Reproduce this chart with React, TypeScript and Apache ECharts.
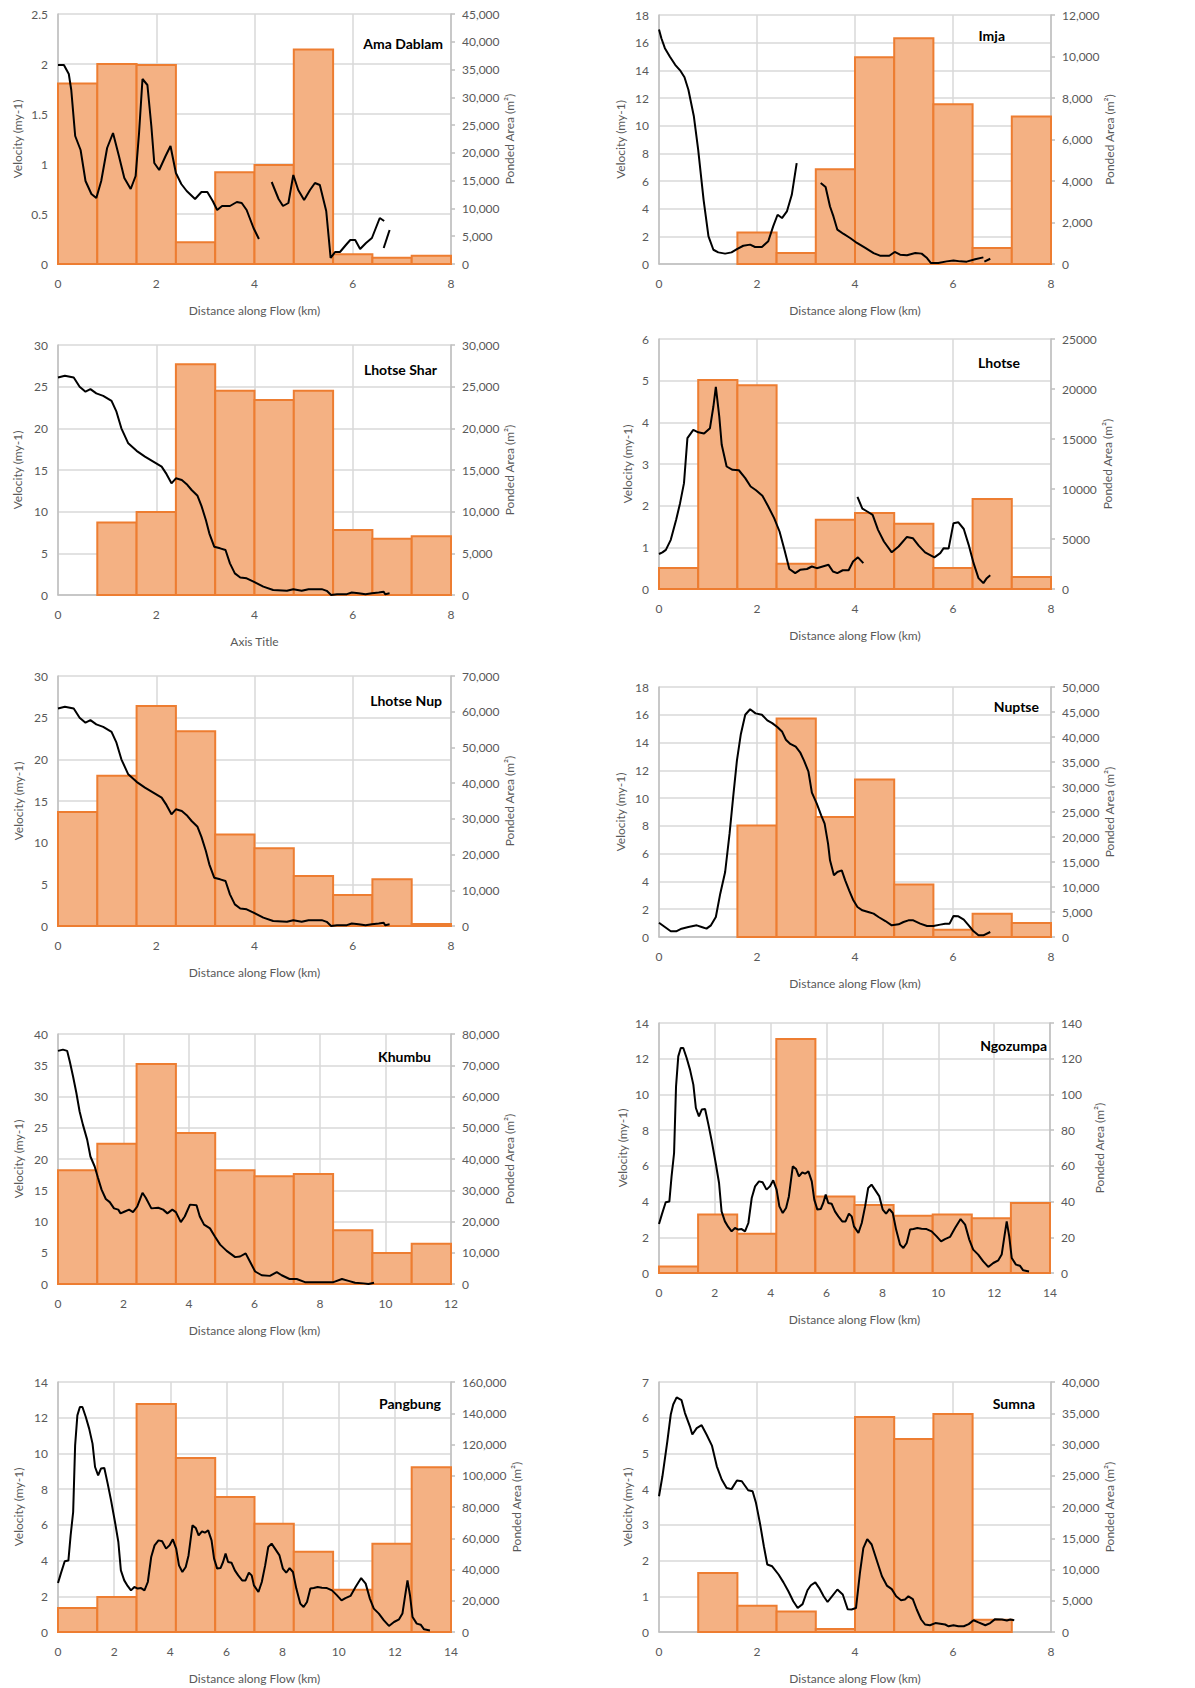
import React, { useEffect, useRef } from "react";
import * as echarts from "echarts";

// ---------- bin edges (km) ----------
const EDGES_8 = [0, 0.8, 1.6, 2.4, 3.2, 4.0, 4.8, 5.6, 6.4, 7.2, 8.0];
const EDGES_12 = [0, 1.2, 2.4, 3.6, 4.8, 6.0, 7.2, 8.4, 9.6, 10.8, 12.0];
const EDGES_14 = [0, 1.4, 2.8, 4.2, 5.6, 7.0, 8.4, 9.8, 11.2, 12.6, 14.0];

// ---------- ponded area per bin (m²) ----------
const amaDablamArea = [32500, 36000, 35800, 3900, 16500, 17800, 38600, 1740, 1140, 1500];
const imjaArea = [0, 0, 1520, 530, 4570, 9960, 10880, 7700, 770, 7110];
const lhotseSharArea = [0, 8700, 9950, 27700, 24500, 23400, 24500, 7800, 6760, 7040];
const lhotseArea = [2100, 20900, 20370, 2530, 6930, 7600, 6530, 2100, 9000, 1200];
const lhotseNupArea = [31900, 42100, 61600, 54500, 25600, 21800, 14000, 8700, 13100, 560];
const nuptseArea = [0, 0, 22300, 43700, 24000, 31500, 10500, 1470, 4670, 2800];
const khumbuArea = [36400, 44900, 70400, 48300, 36400, 34450, 35200, 17200, 9900, 12900];
const ngozumpaArea = [3.7, 32.7, 22.0, 131, 42.9, 38.1, 32.1, 32.7, 30.6, 39.2];
const pangbungArea = [15400, 22400, 145900, 111400, 86400, 69300, 51400, 27100, 56500, 105400];
const sumnaArea = [0, 9440, 4210, 3300, 480, 34400, 30900, 34900, 1970, 0];

// ---------- velocity profiles [km, m/yr], split into continuous segments ----------
const amaDablamVelocity = [
  [[0, 1.99], [0.12, 1.99], [0.22, 1.9], [0.27, 1.74], [0.35, 1.28], [0.46, 1.14], [0.56, 0.83], [0.68, 0.7], [0.78, 0.66], [0.88, 0.83], [1.0, 1.16], [1.12, 1.31], [1.24, 1.08], [1.35, 0.86], [1.48, 0.75], [1.58, 0.88], [1.65, 1.31], [1.72, 1.85], [1.82, 1.79], [1.9, 1.38], [1.96, 1.01], [2.06, 0.94], [2.19, 1.08], [2.29, 1.18], [2.4, 0.91], [2.51, 0.8], [2.62, 0.73], [2.79, 0.65], [2.92, 0.72], [3.04, 0.72], [3.15, 0.63], [3.24, 0.54], [3.34, 0.58], [3.5, 0.58], [3.64, 0.62], [3.74, 0.61], [3.84, 0.54], [3.98, 0.36], [4.09, 0.25]],
  [[4.35, 0.82], [4.49, 0.65], [4.58, 0.58], [4.69, 0.61], [4.79, 0.89], [4.89, 0.74], [5.01, 0.64], [5.13, 0.74], [5.23, 0.81], [5.33, 0.79], [5.46, 0.53], [5.55, 0.06], [5.64, 0.12], [5.74, 0.12], [5.86, 0.19], [5.95, 0.24], [6.05, 0.24], [6.15, 0.15], [6.27, 0.21], [6.39, 0.26], [6.47, 0.36], [6.55, 0.46], [6.64, 0.43]],
  [[6.63, 0.16], [6.75, 0.34]],
];

const imjaVelocity = [
  [[0, 16.96], [0.05, 16.3], [0.12, 15.6], [0.22, 15.0], [0.33, 14.4], [0.43, 14.0], [0.52, 13.5], [0.6, 12.6], [0.71, 10.7], [0.8, 8.25], [0.91, 4.64], [1.01, 2.0], [1.11, 1.03], [1.21, 0.84], [1.35, 0.75], [1.48, 0.84], [1.59, 1.08], [1.72, 1.32], [1.86, 1.4], [1.96, 1.23], [2.1, 1.23], [2.23, 1.64], [2.33, 2.72], [2.42, 3.56], [2.51, 3.32], [2.61, 3.8], [2.71, 5.0], [2.81, 7.29]],
  [[3.3, 5.85], [3.4, 5.56], [3.49, 4.16], [3.56, 3.44], [3.64, 2.48], [3.76, 2.19], [3.9, 1.88], [4.04, 1.52], [4.21, 1.16], [4.38, 0.79], [4.51, 0.6], [4.7, 0.6], [4.81, 0.87], [4.92, 0.67], [5.06, 0.63], [5.23, 0.79], [5.36, 0.75], [5.47, 0.43], [5.55, 0.07], [5.7, 0.07], [5.87, 0.19], [6.01, 0.26], [6.15, 0.19], [6.28, 0.17], [6.45, 0.34], [6.62, 0.48]],
  [[6.64, 0.17], [6.76, 0.38]],
];

const lhotseSharVelocity = [
  [[0, 26.1], [0.14, 26.3], [0.32, 26.1], [0.44, 25.0], [0.56, 24.4], [0.66, 24.7], [0.78, 24.2], [0.92, 23.9], [1.09, 23.3], [1.19, 22.0], [1.29, 20.0], [1.43, 18.2], [1.6, 17.3], [1.77, 16.6], [1.94, 16.0], [2.11, 15.4], [2.21, 14.5], [2.31, 13.4], [2.4, 14.0], [2.52, 13.8], [2.62, 13.3], [2.72, 12.6], [2.84, 11.9], [2.92, 10.7], [3.01, 9.0], [3.08, 7.4], [3.18, 5.8], [3.3, 5.6], [3.41, 5.4], [3.5, 3.8], [3.6, 2.6], [3.71, 2.1], [3.84, 2.0], [3.98, 1.6], [4.18, 1.0], [4.38, 0.6], [4.66, 0.5], [4.79, 0.7], [4.96, 0.5], [5.1, 0.7], [5.37, 0.7], [5.47, 0.5], [5.56, 0.0], [5.68, 0.1], [5.88, 0.1], [5.98, 0.3], [6.12, 0.2], [6.26, 0.1], [6.39, 0.2], [6.53, 0.3], [6.63, 0.4], [6.66, 0.1], [6.75, 0.2]],
];
const lhotseNupVelocity = lhotseSharVelocity;

const lhotseVelocity = [
  [[0, 0.84], [0.07, 0.88], [0.14, 0.94], [0.24, 1.18], [0.35, 1.66], [0.43, 2.06], [0.51, 2.54], [0.58, 3.62], [0.7, 3.82], [0.8, 3.76], [0.92, 3.73], [1.04, 3.86], [1.11, 4.38], [1.16, 4.85], [1.23, 4.14], [1.28, 3.46], [1.38, 2.94], [1.5, 2.86], [1.63, 2.85], [1.76, 2.66], [1.87, 2.46], [1.98, 2.37], [2.11, 2.24], [2.23, 1.98], [2.35, 1.7], [2.46, 1.38], [2.56, 0.94], [2.66, 0.48], [2.78, 0.38], [2.88, 0.46], [3.02, 0.48], [3.12, 0.54], [3.22, 0.5], [3.34, 0.54], [3.46, 0.58], [3.55, 0.42], [3.64, 0.38], [3.75, 0.45], [3.87, 0.45], [3.96, 0.66], [4.06, 0.76], [4.17, 0.62]],
  [[4.05, 2.21], [4.15, 1.93], [4.25, 1.86], [4.36, 1.78], [4.47, 1.42], [4.59, 1.14], [4.75, 0.88], [4.89, 1.02], [5.06, 1.25], [5.18, 1.22], [5.3, 1.04], [5.43, 0.88], [5.62, 0.76], [5.74, 0.86], [5.81, 0.98], [5.91, 0.97], [6.01, 1.58], [6.11, 1.6], [6.22, 1.44], [6.32, 1.06], [6.42, 0.62], [6.52, 0.26], [6.62, 0.14], [6.69, 0.26], [6.76, 0.33]],
];

const nuptseVelocity = [
  [[0, 1.03], [0.12, 0.72], [0.24, 0.41], [0.35, 0.41], [0.46, 0.6], [0.6, 0.72], [0.77, 0.84], [0.87, 0.72], [0.97, 0.6], [1.06, 0.84], [1.16, 1.44], [1.25, 3.12], [1.35, 4.68], [1.44, 7.44], [1.52, 10.3], [1.59, 12.7], [1.67, 14.6], [1.76, 16.0], [1.86, 16.4], [1.97, 16.1], [2.1, 16.0], [2.21, 15.6], [2.31, 15.4], [2.42, 15.1], [2.51, 14.8], [2.59, 14.2], [2.68, 13.9], [2.79, 13.7], [2.88, 13.3], [2.96, 12.7], [3.05, 11.9], [3.12, 10.4], [3.22, 9.6], [3.31, 8.76], [3.38, 8.16], [3.45, 6.72], [3.49, 5.52], [3.57, 4.44], [3.64, 4.68], [3.73, 4.8], [3.8, 4.08], [3.88, 3.36], [3.96, 2.69], [4.05, 2.16], [4.15, 1.92], [4.27, 1.8], [4.38, 1.68], [4.48, 1.44], [4.62, 1.15], [4.75, 0.84], [4.89, 0.91], [4.99, 1.08], [5.09, 1.2], [5.19, 1.2], [5.33, 0.96], [5.47, 0.79], [5.6, 0.79], [5.74, 0.89], [5.84, 0.96], [5.93, 0.96], [6.01, 1.51], [6.11, 1.49], [6.22, 1.25], [6.32, 0.84], [6.42, 0.41], [6.52, 0.12], [6.62, 0.12], [6.76, 0.36]],
];

const khumbuVelocity = [
  [[0, 37.3], [0.15, 37.5], [0.28, 37.3], [0.36, 35.6], [0.46, 33.2], [0.56, 30.6], [0.66, 27.6], [0.76, 25.5], [0.89, 23.1], [0.99, 20.4], [1.12, 18.8], [1.22, 17.0], [1.33, 15.1], [1.46, 13.6], [1.58, 13.1], [1.71, 12.1], [1.84, 11.9], [1.91, 11.3], [2.04, 11.6], [2.17, 11.9], [2.29, 11.5], [2.42, 12.4], [2.5, 13.5], [2.58, 14.6], [2.68, 13.8], [2.85, 12.1], [3.06, 12.2], [3.21, 11.9], [3.34, 11.3], [3.49, 11.9], [3.6, 11.5], [3.75, 9.9], [3.87, 10.8], [4.03, 12.7], [4.23, 12.6], [4.33, 10.8], [4.46, 9.5], [4.64, 8.9], [4.79, 7.6], [4.95, 6.3], [5.15, 5.3], [5.41, 4.3], [5.56, 4.4], [5.73, 4.9], [5.86, 3.6], [6.02, 2.0], [6.22, 1.4], [6.47, 1.3], [6.68, 1.9], [6.83, 1.4], [7.07, 0.8], [7.29, 0.8], [7.54, 0.3], [7.9, 0.3], [8.41, 0.3], [8.67, 0.8], [8.87, 0.5], [9.07, 0.2], [9.33, 0.1], [9.48, 0.0], [9.65, 0.2]],
];

const ngozumpaVelocity = [
  [[0, 2.74], [0.1, 3.27], [0.24, 3.96], [0.37, 4.0], [0.45, 5.41], [0.54, 6.72], [0.61, 10.45], [0.69, 12.13], [0.78, 12.6], [0.87, 12.6], [0.99, 12.04], [1.11, 11.39], [1.23, 10.55], [1.32, 9.24], [1.43, 8.77], [1.53, 9.15], [1.65, 9.18], [1.77, 8.31], [1.89, 7.37], [2.03, 6.16], [2.15, 5.04], [2.24, 3.45], [2.36, 2.89], [2.48, 2.58], [2.6, 2.33], [2.72, 2.52], [2.84, 2.43], [2.96, 2.46], [3.08, 2.33], [3.2, 2.8], [3.32, 4.2], [3.44, 4.85], [3.58, 5.13], [3.71, 5.08], [3.85, 4.67], [3.97, 4.85], [4.09, 5.19], [4.21, 4.67], [4.31, 3.73], [4.43, 3.36], [4.55, 3.64], [4.65, 4.29], [4.79, 5.97], [4.91, 5.82], [5.01, 5.41], [5.13, 5.64], [5.23, 5.56], [5.35, 5.69], [5.47, 5.13], [5.56, 4.11], [5.67, 3.55], [5.79, 3.58], [5.88, 3.92], [5.97, 4.39], [6.06, 3.92], [6.18, 3.88], [6.3, 3.45], [6.42, 3.17], [6.56, 2.89], [6.68, 2.89], [6.8, 3.32], [6.9, 3.17], [6.98, 2.61], [7.14, 2.24], [7.26, 2.8], [7.38, 3.73], [7.49, 4.76], [7.61, 4.95], [7.73, 4.67], [7.89, 4.29], [8.01, 3.55], [8.13, 3.32], [8.25, 3.58], [8.37, 3.36], [8.49, 2.43], [8.63, 1.59], [8.75, 1.4], [8.87, 1.68], [8.99, 2.43], [9.11, 2.46], [9.25, 2.52], [9.4, 2.48], [9.58, 2.46], [9.76, 2.33], [9.94, 2.05], [10.1, 1.77], [10.24, 1.9], [10.42, 2.02], [10.6, 2.52], [10.8, 3.02], [10.96, 2.71], [11.11, 1.87], [11.25, 1.31], [11.43, 1.03], [11.61, 0.65], [11.79, 0.34], [11.97, 0.56], [12.15, 0.71], [12.27, 1.03], [12.35, 1.87], [12.45, 2.89], [12.54, 2.05], [12.63, 0.84], [12.78, 0.47], [12.92, 0.41], [13.04, 0.15], [13.25, 0.09]],
];
const pangbungVelocity = ngozumpaVelocity;

const sumnaVelocity = [
  [[0, 3.8], [0.07, 4.36], [0.17, 5.34], [0.24, 6.09], [0.29, 6.37], [0.36, 6.57], [0.46, 6.49], [0.53, 6.13], [0.63, 5.76], [0.68, 5.53], [0.77, 5.71], [0.87, 5.79], [0.97, 5.53], [1.08, 5.22], [1.18, 4.64], [1.28, 4.27], [1.38, 4.03], [1.48, 4.0], [1.59, 4.24], [1.69, 4.22], [1.82, 3.97], [1.91, 3.94], [1.98, 3.61], [2.06, 3.05], [2.14, 2.4], [2.21, 1.89], [2.31, 1.84], [2.44, 1.61], [2.54, 1.39], [2.64, 1.14], [2.74, 0.86], [2.83, 0.67], [2.93, 0.78], [3.03, 1.17], [3.1, 1.31], [3.19, 1.39], [3.27, 1.23], [3.36, 1.0], [3.44, 0.84], [3.53, 1.0], [3.64, 1.19], [3.75, 1.05], [3.85, 0.64], [3.93, 0.63], [4.02, 0.67], [4.1, 1.65], [4.17, 2.35], [4.25, 2.6], [4.34, 2.45], [4.45, 1.98], [4.55, 1.56], [4.65, 1.3], [4.75, 1.2], [4.84, 1.0], [4.94, 0.89], [5.02, 0.91], [5.09, 1.0], [5.18, 0.92], [5.26, 0.63], [5.35, 0.35], [5.43, 0.21], [5.53, 0.19], [5.64, 0.25], [5.74, 0.23], [5.84, 0.21], [5.91, 0.16], [6.01, 0.19], [6.11, 0.16], [6.22, 0.16], [6.32, 0.22], [6.42, 0.33], [6.52, 0.27], [6.66, 0.19], [6.76, 0.25], [6.86, 0.36], [7.0, 0.35], [7.1, 0.32], [7.17, 0.35], [7.25, 0.33]],
];

// ---------- text ----------
const X_NAME = "Distance along Flow (km)";
const V_NAME = "Velocity (my-1)";
const A_NAME = "Ponded Area (m\u00B2)";

// ---------- layout / panel definitions ----------
const panels = [
  { title: "Ama Dablam", edges: EDGES_8, area: amaDablamArea, velocity: amaDablamVelocity, xMax: 8, xStep: 2, vMax: 2.5, vStep: 0.5, aMax: 45000, aStep: 5000, comma: true, xName: X_NAME, grid: { left: 58, top: 14, width: 393, height: 250 }, titlePos: [443, 43], leftGap: 35, rightGap: 50 },
  { title: "Imja", edges: EDGES_8, area: imjaArea, velocity: imjaVelocity, xMax: 8, xStep: 2, vMax: 18, vStep: 2, aMax: 12000, aStep: 2000, comma: true, xName: X_NAME, grid: { left: 659, top: 15, width: 392, height: 249 }, titlePos: [1005, 35], leftGap: 33, rightGap: 52 },
  { title: "Lhotse Shar", edges: EDGES_8, area: lhotseSharArea, velocity: lhotseSharVelocity, xMax: 8, xStep: 2, vMax: 30, vStep: 5, aMax: 30000, aStep: 5000, comma: true, xName: "Axis Title", grid: { left: 58, top: 345, width: 393, height: 250 }, titlePos: [437, 369], leftGap: 35, rightGap: 50 },
  { title: "Lhotse", edges: EDGES_8, area: lhotseArea, velocity: lhotseVelocity, xMax: 8, xStep: 2, vMax: 6, vStep: 1, aMax: 25000, aStep: 5000, comma: false, xName: X_NAME, grid: { left: 659, top: 339, width: 392, height: 250 }, titlePos: [1020, 362], leftGap: 26, rightGap: 50 },
  { title: "Lhotse Nup", edges: EDGES_8, area: lhotseNupArea, velocity: lhotseNupVelocity, xMax: 8, xStep: 2, vMax: 30, vStep: 5, aMax: 70000, aStep: 10000, comma: true, xName: X_NAME, grid: { left: 58, top: 676, width: 393, height: 250 }, titlePos: [442, 700], leftGap: 34, rightGap: 50 },
  { title: "Nuptse", edges: EDGES_8, area: nuptseArea, velocity: nuptseVelocity, xMax: 8, xStep: 2, vMax: 18, vStep: 2, aMax: 50000, aStep: 5000, comma: true, xName: X_NAME, grid: { left: 659, top: 687, width: 392, height: 250 }, titlePos: [1039, 706], leftGap: 33, rightGap: 52 },
  { title: "Khumbu", edges: EDGES_12, area: khumbuArea, velocity: khumbuVelocity, xMax: 12, xStep: 2, vMax: 40, vStep: 5, aMax: 80000, aStep: 10000, comma: true, xName: X_NAME, grid: { left: 58, top: 1034, width: 393, height: 250 }, titlePos: [431, 1056], leftGap: 34, rightGap: 50 },
  { title: "Ngozumpa", edges: EDGES_14, area: ngozumpaArea, velocity: ngozumpaVelocity, xMax: 14, xStep: 2, vMax: 14, vStep: 2, aMax: 140, aStep: 20, comma: false, xName: X_NAME, grid: { left: 659, top: 1023, width: 391, height: 250 }, titlePos: [1047, 1045], leftGap: 31, rightGap: 43 },
  { title: "Pangbung", edges: EDGES_14, area: pangbungArea, velocity: pangbungVelocity, xMax: 14, xStep: 2, vMax: 14, vStep: 2, aMax: 160000, aStep: 20000, comma: true, xName: X_NAME, grid: { left: 58, top: 1382, width: 393, height: 250 }, titlePos: [441, 1403], leftGap: 34, rightGap: 50 },
  { title: "Sumna", edges: EDGES_8, area: sumnaArea, velocity: sumnaVelocity, xMax: 8, xStep: 2, vMax: 7, vStep: 1, aMax: 40000, aStep: 5000, comma: true, xName: X_NAME, grid: { left: 659, top: 1382, width: 392, height: 250 }, titlePos: [1035, 1403], leftGap: 26, rightGap: 50 },
];

const FONT = "Lato, 'Open Sans', sans-serif";
const GRID_COLOR = "#d9d9d9";
const AXIS_COLOR = "#bfbfbf";
const LABEL_COLOR = "#595959";
const BAR_FILL = "#F4B183";
const BAR_STROKE = "#ED7D31";

function withCommas(v: number): string {
  return v.toLocaleString("en-US");
}

function buildOption() {
  const labelStyle = { color: LABEL_COLOR, fontSize: 12, fontFamily: FONT };
  const grid = panels.map((p) => ({ ...p.grid, containLabel: false }));
  const xAxis = panels.map((p, i) => ({
    gridIndex: i,
    type: "value",
    min: 0,
    max: p.xMax,
    interval: p.xStep,
    name: p.xName,
    nameLocation: "middle",
    nameGap: 40,
    nameTextStyle: labelStyle,
    axisLine: { show: true, onZero: false, lineStyle: { color: AXIS_COLOR, width: 1.5 } },
    axisTick: { show: false },
    axisLabel: { ...labelStyle, margin: 13, formatter: (v: number) => String(v) },
    splitLine: { show: true, lineStyle: { color: GRID_COLOR, width: 1.5 } },
  }));
  const yAxis: any[] = [];
  panels.forEach((p, i) => {
    yAxis.push({
      gridIndex: i,
      type: "value",
      position: "left",
      min: 0,
      max: p.vMax,
      interval: p.vStep,
      name: V_NAME,
      nameLocation: "middle",
      nameRotate: 90,
      nameGap: p.leftGap,
      nameTextStyle: labelStyle,
      axisLine: { show: true, lineStyle: { color: AXIS_COLOR, width: 1.5 } },
      axisTick: { show: false },
      axisLabel: { ...labelStyle, margin: 10, formatter: (v: number) => String(v) },
      splitLine: { show: true, lineStyle: { color: GRID_COLOR, width: 1.5 } },
    });
    yAxis.push({
      gridIndex: i,
      type: "value",
      position: "right",
      min: 0,
      max: p.aMax,
      interval: p.aStep,
      name: A_NAME,
      nameLocation: "middle",
      nameRotate: 90,
      nameGap: p.rightGap,
      nameTextStyle: labelStyle,
      axisLine: { show: true, lineStyle: { color: AXIS_COLOR, width: 1.5 } },
      axisTick: { show: true, length: 4, lineStyle: { color: AXIS_COLOR, width: 1.5 } },
      axisLabel: { ...labelStyle, margin: 11, formatter: (v: number) => (p.comma ? withCommas(v) : String(v)) },
      splitLine: { show: false },
    });
  });

  const series: any[] = [];
  panels.forEach((p, i) => {
    const bins: number[][] = [];
    p.area.forEach((a, k) => {
      if (a > 0) bins.push([p.edges[k], p.edges[k + 1], a]);
    });
    series.push({
      type: "custom",
      xAxisIndex: i,
      yAxisIndex: 2 * i + 1,
      encode: { x: [0, 1], y: 2 },
      data: bins,
      z: 2,
      renderItem: (params: any, api: any) => {
        const x0 = api.value(0);
        const x1 = api.value(1);
        const v = api.value(2);
        const pTop = api.coord([x0, v]);
        const pBot = api.coord([x1, 0]);
        return {
          type: "rect",
          shape: { x: pTop[0], y: pTop[1], width: pBot[0] - pTop[0], height: pBot[1] - pTop[1] },
          style: { fill: BAR_FILL, stroke: BAR_STROKE, lineWidth: 2 },
        };
      },
    });
    p.velocity.forEach((seg) => {
      series.push({
        type: "line",
        xAxisIndex: i,
        yAxisIndex: 2 * i,
        data: seg,
        showSymbol: false,
        symbol: "none",
        smooth: false,
        z: 3,
        lineStyle: { color: "#000000", width: 2 },
      });
    });
  });

  const graphic = panels.map((p) => ({
    type: "text",
    x: p.titlePos[0],
    y: p.titlePos[1],
    z: 10,
    style: {
      text: p.title,
      fill: "#000000",
      font: `bold 14px ${FONT}`,
      align: "right",
      verticalAlign: "middle",
      textAlign: "right",
      textVerticalAlign: "middle",
    },
  }));

  return {
    animation: false,
    backgroundColor: "#ffffff",
    grid,
    xAxis,
    yAxis,
    series,
    graphic,
  };
}

export default function App() {
  const ref = useRef<HTMLDivElement | null>(null);
  useEffect(() => {
    if (!ref.current) return;
    const chart = echarts.init(ref.current, undefined, { renderer: "svg" });
    chart.setOption(buildOption() as any);
    return () => chart.dispose();
  }, []);
  return (
    <div
      ref={ref}
      style={{ position: "absolute", left: 0, top: 0, width: 1195, height: 1688, background: "#fff" }}
    />
  );
}
